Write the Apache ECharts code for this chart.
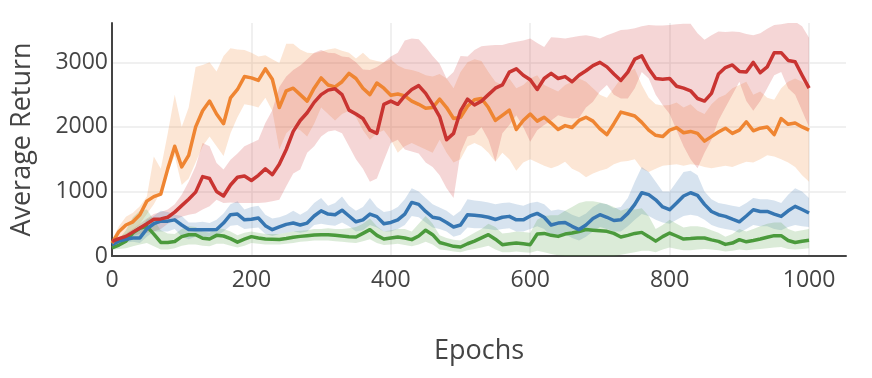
<!doctype html>
<html>
	<head>
		<meta charset="utf-8">
		<title>Average Return</title>
		<style>
			html, body { margin: 0; padding: 0; background: #fff; }
		</style>
	</head>
	<body>
		<div id="container" style="height: 378px; width: 872px;"></div>

		<script src="https://cdn.jsdelivr.net/npm/echarts@6/dist/echarts.min.js"></script>

		<script>
			// epochs, sampled every 10
			const epochs = [0,10,20,30,40,50,60,70,80,90,100,110,120,130,140,150,160,170,180,190,200,210,220,230,240,250,260,270,280,290,300,310,320,330,340,350,360,370,380,390,400,410,420,430,440,450,460,470,480,490,500,510,520,530,540,550,560,570,580,590,600,610,620,630,640,650,660,670,680,690,700,710,720,730,740,750,760,770,780,790,800,810,820,830,840,850,860,870,880,890,900,910,920,930,940,950,960,970,980,990,1000];

			const orangeMean = [200,380,480,530,640,850,920,960,1350,1700,1380,1560,2000,2250,2400,2200,2050,2450,2580,2780,2760,2720,2900,2740,2300,2560,2600,2500,2400,2600,2760,2650,2620,2700,2830,2750,2600,2500,2680,2600,2490,2510,2480,2400,2350,2290,2300,2430,2300,2130,2150,2320,2420,2440,2300,2100,2180,2260,1960,2100,2200,2090,2150,2060,1960,2020,1990,2100,2150,2090,1970,1880,2050,2230,2200,2170,2070,1950,1870,1850,1950,1990,1910,1930,1900,1780,1850,1920,1980,1900,1950,2080,1940,1980,2000,1880,2130,2040,2060,2000,1950];
			const orangeHi = [260,460,610,670,770,920,1540,1350,1900,2500,2000,2300,2930,2960,3000,2860,3100,3220,3200,3190,3150,3090,3110,3050,2990,3290,3290,3200,3150,3140,3170,3200,3220,3180,3150,3060,3150,3050,3020,3000,3050,2950,2900,2880,2850,2800,2780,2820,2750,2600,2850,3000,3050,3020,2850,2700,2650,2750,2600,2650,2750,2800,2650,2600,2550,2650,2700,2750,2700,2600,2500,2450,2600,2750,2850,2900,2650,2450,2350,2330,2340,2380,2300,2350,2250,2200,2350,2450,2500,2600,2650,2700,2500,2550,2450,2420,2600,2700,2750,2700,2600];
			const orangeLo = [150,280,330,400,500,650,800,1000,1300,1550,1100,1200,1450,1700,1850,1700,1550,1900,2150,2350,2330,2300,2450,2250,1650,1900,2000,1950,1850,2050,2300,2200,2100,2200,2250,2150,1950,1800,1900,1950,1800,1600,1700,1750,1700,1650,1600,1800,1600,1450,1500,1700,1750,1700,1600,1460,1600,1500,1320,1450,1500,1450,1400,1360,1400,1460,1350,1300,1220,1280,1320,1350,1420,1460,1470,1500,1350,1300,1350,1400,1410,1420,1400,1420,1410,1380,1360,1380,1400,1380,1420,1460,1450,1500,1560,1540,1500,1450,1380,1250,1150];

			const redMean = [227,270,304,370,434,500,570,575,600,680,780,880,990,1230,1200,1000,930,1100,1220,1240,1170,1250,1350,1260,1420,1650,1930,2100,2220,2380,2500,2570,2590,2500,2260,2200,2130,1950,1900,2350,2400,2350,2480,2580,2640,2520,2350,2160,1800,1900,2250,2430,2340,2400,2500,2600,2650,2850,2900,2800,2730,2580,2750,2830,2750,2780,2700,2800,2870,2950,3000,2930,2820,2720,2850,3050,3100,2900,2750,2740,2750,2630,2600,2560,2440,2400,2520,2820,2920,2960,2860,2850,3000,2840,2930,3150,3150,3030,3010,2800,2600];
			const redHi = [250,300,350,420,500,580,650,680,720,800,950,1150,1390,1750,1700,1440,1340,1490,1590,1700,1750,1800,2060,2260,2620,2780,2880,2950,3050,3150,3190,3150,3140,3090,3080,3000,2890,2880,2930,3000,3090,3150,3340,3370,3360,3240,3100,2980,2750,2850,3100,3090,3190,3250,3260,3270,3270,3300,3320,3340,3370,3300,3240,3390,3380,3370,3390,3410,3420,3400,3370,3420,3460,3500,3510,3530,3560,3580,3570,3570,3580,3590,3600,3600,3450,3350,3420,3480,3470,3480,3470,3440,3420,3450,3520,3580,3590,3610,3630,3560,3380];
			const redLo = [200,240,270,310,340,360,380,420,500,560,610,640,660,720,770,870,820,830,820,820,820,820,830,850,870,1080,1280,1340,1600,1700,1850,1930,1950,1900,1700,1500,1350,1150,1200,1480,1750,1800,1650,1620,1590,1450,1380,1250,1050,900,1600,1850,1880,2000,1800,1460,1900,2030,2180,2000,1770,1950,2030,2100,2180,2150,2130,2140,2300,2390,2550,2650,2500,2440,2440,2600,2850,2750,2500,2340,2200,1950,1700,1500,1360,1600,1800,2100,2300,2500,2700,2400,2250,2400,2600,2800,2850,2600,2500,2250,2000];

			const blueMean = [176,230,260,280,280,420,500,540,540,560,480,410,408,408,408,410,511,640,650,560,570,589,470,408,450,490,511,480,510,620,700,650,640,710,620,530,560,650,610,500,520,560,650,830,800,690,600,580,520,450,480,640,630,620,600,565,600,614,560,560,620,660,600,480,510,520,460,410,480,580,640,600,550,560,660,800,980,950,870,760,717,820,930,980,940,800,690,640,614,570,530,620,717,690,690,650,614,700,769,720,666];
			const blueHi = [210,280,320,350,420,560,620,700,680,640,620,520,520,530,510,560,660,800,850,720,760,780,640,580,600,640,700,640,700,820,900,780,820,920,780,700,760,900,760,680,700,760,880,1050,1000,900,800,750,700,620,700,880,860,850,830,800,820,830,800,780,820,840,800,700,720,700,640,600,660,760,820,800,740,760,900,1150,1380,1300,1150,1000,1000,1150,1300,1320,1250,1000,880,820,800,780,760,820,900,880,880,860,820,950,1050,1000,900];
			const blueLo = [150,190,210,220,200,300,380,380,380,420,300,260,300,300,300,310,380,470,480,420,430,440,340,310,340,360,380,360,380,480,500,480,470,520,460,380,400,480,440,380,380,420,480,620,600,520,440,420,380,300,330,440,430,430,420,400,420,430,380,380,420,460,420,300,330,340,280,240,300,380,450,420,380,380,460,560,650,620,560,520,500,560,620,640,620,560,480,440,420,400,360,420,480,460,460,420,400,450,480,460,450];

			const greenMean = [125,170,230,360,430,460,340,210,210,225,300,330,330,275,263,320,310,270,215,260,300,280,263,260,255,270,290,304,315,325,330,330,320,310,300,294,350,408,320,263,280,294,280,253,310,400,330,210,180,150,140,190,230,280,330,260,176,190,202,190,176,340,350,320,304,340,356,380,410,400,390,382,350,294,320,350,366,300,230,300,356,310,263,270,280,279,250,227,180,200,253,220,240,263,290,315,315,240,210,230,243];
			const greenHi = [150,260,400,600,700,720,560,400,350,340,420,460,450,380,360,430,420,380,320,360,380,360,340,340,340,360,380,390,400,420,420,430,420,420,430,450,500,580,460,380,400,420,420,380,500,620,500,320,280,250,240,300,360,420,500,450,350,360,380,370,360,560,620,630,630,700,760,820,850,850,830,800,760,700,740,720,740,620,420,480,560,500,440,460,460,440,400,360,300,340,420,380,420,460,500,520,520,420,380,400,420];
			const greenLo = [100,110,120,150,180,200,150,100,100,120,160,180,180,160,150,190,190,160,130,160,200,190,180,180,180,190,200,220,230,240,240,240,230,220,210,200,230,260,200,170,180,190,170,150,180,220,180,100,90,70,60,90,110,130,160,100,60,60,70,60,50,80,60,30,10,0,-10,-20,-20,-30,-30,-20,0,20,40,60,80,80,60,100,130,110,90,90,100,110,100,90,70,80,100,90,100,110,120,130,140,110,100,110,120];

			const xTicks = [0, 200, 400, 600, 800, 1000];
			const yTicks = [0, 1000, 2000, 3000];

			const lineColors = { orange: '#ef8532', red: '#c93431', blue: '#3676b2', green: '#4b9a3c' };
			const bandColors = {
				orange: 'rgba(240,132,47,0.2)',
				red: 'rgba(204,51,48,0.2)',
				blue: 'rgba(53,116,176,0.2)',
				green: 'rgba(74,154,59,0.2)'
			};

			function pairs(ys) {
				return epochs.map((e, i) => [e, ys[i]]);
			}

			function band(name, lo, hi) {
				return {
					name: name + ' band',
					type: 'custom',
					clip: true,
					silent: true,
					encode: { x: 0, y: [1, 2] },
					data: epochs.map((e, i) => [e, lo[i], hi[i]]),
					renderItem: function(params, api) {
						if (params.dataIndex !== 0) return;
						let pts = [];
						for (let i = 0; i < epochs.length; i++) pts.push(api.coord([epochs[i], hi[i]]));
						for (let i = epochs.length - 1; i >= 0; i--) pts.push(api.coord([epochs[i], lo[i]]));
						return {
							type: 'polygon',
							shape: { points: pts },
							style: { fill: bandColors[name] }
						};
					}
				};
			}

			function line(name, ys) {
				return {
					name: name,
					type: 'line',
					showSymbol: false,
					data: pairs(ys),
					lineStyle: { color: lineColors[name], width: 3.5, join: 'round' },
					itemStyle: { color: lineColors[name] }
				};
			}

			const font = 'Open Sans';
			var myChart = echarts.init(document.getElementById('container'));

			myChart.setOption({
				animation: false,
				grid: { left: 112, right: 26, top: 23, bottom: 122 },
				xAxis: {
					type: 'value',
					min: 0,
					max: 1053,
					interval: 200,
					name: 'Epochs',
					nameLocation: 'middle',
					nameGap: 82,
					nameTextStyle: { fontFamily: font, fontSize: 27, color: '#444' },
					axisLine: { onZero: false, lineStyle: { color: '#444', width: 2 } },
					axisTick: { show: false },
					axisLabel: {
						showMaxLabel: false,
						margin: 13,
						fontFamily: font,
						fontSize: 23,
						color: '#444',
						formatter: v => xTicks.includes(v) ? String(v) : ''
					},
					splitLine: { show: true, showMinLine: false, showMaxLine: false, lineStyle: { color: '#ebebeb', width: 1.5 } }
				},
				yAxis: {
					type: 'value',
					min: 0,
					max: 3610,
					interval: 1000,
					name: 'Average Return',
					nameLocation: 'middle',
					nameGap: 76,
					nameTextStyle: { fontFamily: font, fontSize: 27, color: '#444' },
					axisLine: { show: true, lineStyle: { color: '#444', width: 2 } },
					axisTick: { show: false },
					axisLabel: {
						showMaxLabel: false,
						margin: 4,
						fontFamily: font,
						fontSize: 23,
						color: '#444',
						formatter: v => yTicks.includes(v) ? String(v) : ''
					},
					splitLine: { show: true, showMinLine: false, showMaxLine: false, lineStyle: { color: '#ebebeb', width: 1.5 } }
				},
				series: [
					band('orange', orangeLo, orangeHi),
					band('red', redLo, redHi),
					band('blue', blueLo, blueHi),
					band('green', greenLo, greenHi),
					line('green', greenMean),
					line('blue', blueMean),
					line('orange', orangeMean),
					line('red', redMean)
				]
			});
		</script>
	</body>
</html>
